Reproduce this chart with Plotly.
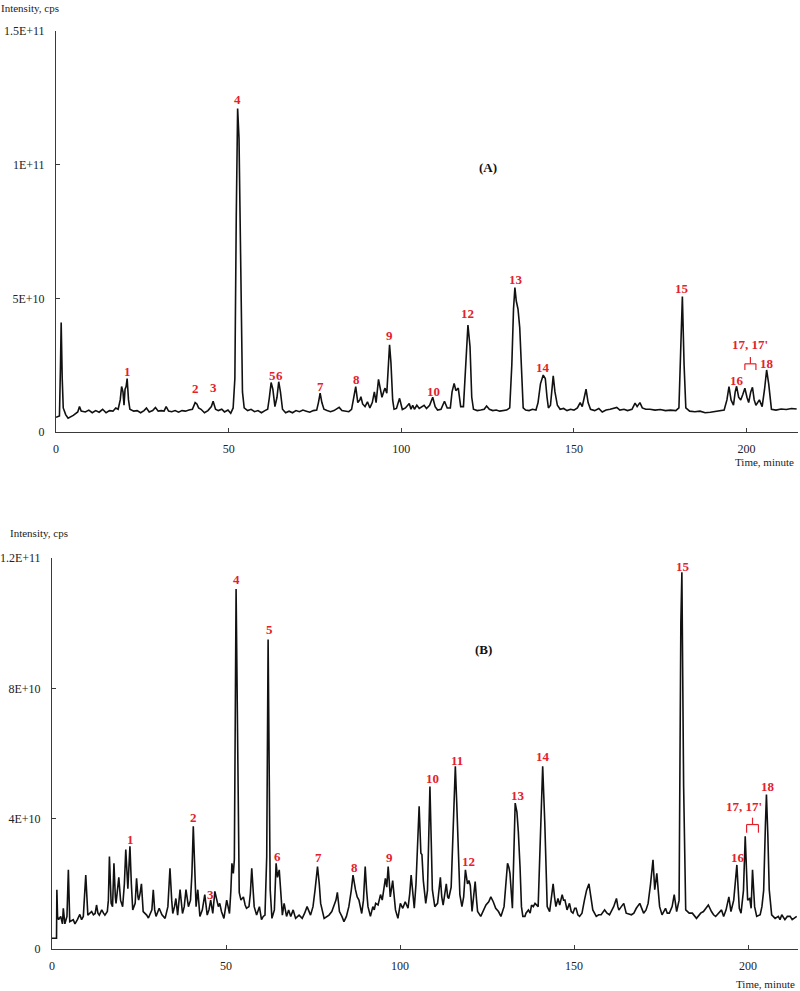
import numpy as np
import plotly.graph_objects as go

# ---- chromatogram (A): time (min) / intensity (x1E+10 cps) ----
a_time = [0, 1.0, 1.3, 1.5, 1.8, 2.1, 2.8, 3.5, 5.0, 6.3, 6.8, 7.3, 8.5, 9.5, 10.5, 11.5, 12.5, 13.5, 14.5, 15.5,
          16.5, 17.3, 18.0, 18.6, 19.0, 19.4, 19.7, 20.0, 20.3, 20.6, 21.0, 21.4, 22.5, 23.5, 24.5, 25.5, 26.2, 27.0,
          28.0, 28.8, 29.6, 30.5, 31.3, 31.9, 32.6, 33.5, 34.5, 35.5, 36.5, 37.5, 38.5, 39.5, 40.3, 40.8, 41.3, 42.0,
          43.0, 44.0, 45.0, 45.5, 46.2, 47.0, 48.0, 48.8, 49.8, 50.6, 51.3, 51.8, 52.2, 52.6, 53.0, 53.5, 54.0, 54.5,
          55.5, 56.5, 57.5, 58.5, 59.5, 60.5, 61.3, 61.8, 62.3, 62.8, 63.4, 64.0, 64.5, 65.0, 65.6, 66.5, 67.5, 68.5,
          69.5, 70.5, 71.5, 72.5, 73.5, 74.5, 75.5, 76.0, 76.5, 77.0, 77.6, 78.5, 79.5, 80.5, 81.3, 82.0, 82.8, 83.8,
          84.8, 85.6, 86.2, 86.8, 87.4, 88.0, 88.3, 88.8, 89.5, 90.2, 90.9, 91.6, 92.2, 92.7, 93.4, 94.0, 94.4, 95.0,
          95.3, 95.8, 96.2, 96.6, 97.0, 97.5, 97.9, 98.6, 99.5, 100.3, 101.2, 102.3, 102.8, 103.3, 103.8, 104.5,
          105.2, 106.0, 106.6, 107.3, 108.2, 109.1, 109.8, 110.5, 111.5, 112.5, 113.3, 114.2, 114.7, 115.3, 115.8,
          116.5, 117.2, 118.0, 118.6, 119.3, 119.9, 120.4, 120.9, 122.0, 123.0, 124.0, 124.7, 125.5, 126.5, 127.5,
          128.5, 129.5, 130.5, 131.4, 132.0, 132.5, 132.9, 133.3, 133.8, 134.3, 134.8, 135.3, 136.0, 137.0, 138.0,
          139.0, 139.6, 140.3, 141.1, 141.7, 142.2, 142.6, 143.2, 143.6, 144.0, 144.5, 145.2, 146.0, 147.0, 148.0,
          149.0, 150.0, 151.0, 151.8, 152.4, 153.0, 153.5, 154.1, 154.8, 156.0, 157.2, 158.2, 159.3, 160.5, 161.5,
          162.4, 163.3, 164.5, 165.5, 166.8, 167.7, 168.3, 169.1, 169.8, 170.8, 172.0, 173.5, 175.0, 176.5, 178.0,
          179.5, 180.4, 180.9, 181.4, 181.9, 182.4, 183.5, 185.0, 186.5, 188.0, 189.5, 191.0, 192.5, 193.5, 194.3,
          194.9, 195.5, 196.2, 196.7, 197.1, 197.7, 198.3, 198.9, 199.5, 200.1, 200.6, 201.2, 201.7, 202.2, 202.7,
          203.7, 204.5, 205.2, 205.8, 206.4, 207.2, 208.5, 210.0, 211.5, 213.0, 214.5]
a_int = [0.55, 0.6, 2.5, 4.1, 2.0, 0.9, 0.65, 0.52, 0.62, 0.75, 0.95, 0.78, 0.75, 0.82, 0.72, 0.8, 0.74, 0.85, 0.72, 0.8,
         0.78, 0.9, 0.85, 1.2, 1.7, 1.5, 1.0, 1.6, 1.7, 2.0, 1.2, 0.85, 0.78, 0.8, 0.72, 0.8, 0.9, 0.75,
         0.8, 0.92, 0.78, 0.8, 0.78, 0.95, 0.78, 0.76, 0.8, 0.74, 0.8, 0.78, 0.82, 0.85, 1.1, 1.05, 0.9, 0.85,
         0.72, 0.8, 0.95, 1.15, 0.85, 0.8, 0.85, 0.75, 0.82, 0.7, 0.9, 2.0, 8.0, 12.1, 11.0, 5.0, 1.5, 0.9,
         0.8, 0.85, 0.76, 0.8, 0.72, 0.8, 0.85, 1.3, 1.85, 1.6, 0.95, 1.3, 1.88, 1.5, 0.85, 0.72, 0.78, 0.72,
         0.8, 0.76, 0.82, 0.78, 0.74, 0.8, 0.82, 1.1, 1.45, 1.1, 0.85, 0.8, 0.76, 0.8, 0.85, 0.92, 0.8, 0.78,
         0.76, 0.85, 1.3, 1.7, 1.1, 1.2, 1.32, 1.05, 0.95, 1.13, 0.9, 1.1, 1.5, 1.1, 1.97, 1.5, 1.3, 1.55,
         1.64, 1.45, 2.6, 3.26, 2.6, 1.2, 0.85, 0.88, 1.26, 0.84, 0.9, 1.07, 0.85, 1.0, 0.85, 1.0,
         0.88, 0.95, 1.0, 0.88, 1.0, 1.3, 0.95, 0.82, 0.85, 1.15, 0.9, 0.9, 1.5, 1.82, 1.55,
         1.64, 0.95, 0.95, 2.5, 4.0, 3.2, 1.3, 0.85, 0.8, 0.82, 0.85, 0.97, 0.85, 0.8, 0.82,
         0.78, 0.8, 0.82, 0.9, 2.5, 4.6, 5.4, 4.9, 4.6, 3.9, 2.2, 0.9, 0.82, 0.8, 0.85,
         0.82, 1.1, 1.8, 2.13, 2.0, 1.3, 0.9, 1.0, 1.7, 2.1, 1.5, 1.0, 0.85, 0.88, 0.8,
         0.85, 0.82, 0.9, 1.1, 0.95, 1.3, 1.6, 1.1, 0.85, 0.8, 0.88, 0.75, 0.82, 0.85, 0.88,
         0.92, 0.82, 0.85, 0.8, 0.85, 1.08, 0.95, 1.1, 0.9, 0.85, 0.85, 0.82, 0.84, 0.8, 0.82,
         0.8, 0.9, 3.0, 5.07, 2.5, 0.9, 0.78, 0.76, 0.78, 0.72, 0.74, 0.76, 0.78, 0.82, 1.2,
         1.7, 1.2, 1.0, 1.5, 1.71, 1.3, 1.2, 1.4, 1.64, 1.3, 1.1, 1.5, 1.67, 1.2, 1.0,
         1.2, 0.95, 1.6, 2.32, 1.8, 0.85, 0.82, 0.86, 0.84, 0.88, 0.86]

# ---- chromatogram (B) ----
b_time = [0, 1.3, 1.4, 1.6, 1.9, 2.5, 3.0, 3.25, 3.7, 4.3, 4.7, 5.1, 6.1, 6.6, 7.3, 8.0, 8.5, 9.0, 9.7, 10.3, 10.9,
          11.4, 11.9, 12.4, 12.8, 13.2, 13.6, 14.3, 14.8, 15.2, 15.9, 16.2, 16.5, 16.8, 17.0, 17.4, 17.8, 18.2, 18.4,
          19.2, 19.7, 20.3, 20.8, 21.2, 21.6, 21.8, 22.1, 22.4, 22.8, 23.2, 23.9, 24.3, 24.7, 24.9, 25.3, 25.7, 26.2,
          27.2, 27.7, 28.2, 28.7, 29.1, 29.5, 29.9, 30.8, 31.6, 32.5, 33.3, 33.9, 34.4, 34.7, 35.2, 35.6, 36.1, 36.8,
          37.5, 38.0, 38.5, 38.9, 39.2, 39.8, 40.2, 40.6, 41.0, 41.4, 41.9, 42.5, 43.2, 43.9, 44.6, 45.1, 45.6, 46.2,
          46.8, 47.3, 47.8, 48.2, 48.7, 49.4, 50.2, 50.6, 51.0, 51.4, 51.7, 52.1, 52.4, 52.9, 53.4, 53.8, 54.3, 55.0,
          55.5, 55.9, 56.6, 57.0, 57.4, 57.8, 58.1, 58.8, 59.2, 59.6, 60.2, 60.7, 61.2, 61.7, 62.1, 62.5, 62.7, 63.2,
          63.9, 64.4, 64.8, 65.3, 65.8, 66.2, 66.7, 67.4, 68.0, 68.6, 69.3, 70.0, 71.0, 71.9, 72.6, 73.3, 74.3, 75.0,
          75.6, 76.3, 76.8, 77.2, 78.2, 79.0, 79.6, 80.4, 81.0, 81.6, 82.0, 82.6, 83.3, 83.9, 84.6, 85.3, 86.0, 86.5,
          87.2, 87.7, 88.2, 89.0, 89.5, 90.0, 90.4, 90.8, 91.5, 92.2, 92.6, 93.0, 93.7, 94.4, 94.9, 95.4, 95.8, 96.2,
          96.6, 96.9, 97.2, 97.9, 98.3, 98.7, 99.4, 100.1, 100.8, 101.5, 102.3, 102.8, 103.2, 103.7, 104.1, 104.6,
          105.0, 105.5, 106.0, 106.3, 106.7, 107.4, 107.9, 108.3, 108.6, 109.0, 109.3, 110.0, 110.8, 111.6, 112.0,
          112.4, 113.3, 113.7, 114.0, 114.7, 115.2, 115.9, 116.3, 116.6, 117.2, 117.8, 118.3, 118.8, 119.4, 119.8,
          120.2, 120.7, 121.2, 121.6, 122.0, 122.3, 123.2, 124.0, 124.7, 125.5, 126.1, 126.8, 127.5, 128.3, 129.0,
          129.9, 130.5, 130.9, 131.3, 131.6, 132.3, 132.7, 133.1, 133.6, 134.0, 134.5, 134.9, 135.3, 135.9, 136.2,
          136.9, 137.4, 137.8, 138.3, 138.8, 139.7, 140.2, 140.6, 141.0, 141.6, 142.0, 142.3, 143.0, 143.5, 144.0,
          144.4, 144.8, 145.4, 145.9, 146.6, 147.0, 147.4, 148.0, 148.7, 149.2, 149.7, 150.2, 150.6, 151.1, 151.6,
          152.3, 153.0, 153.6, 154.3, 154.9, 155.4, 156.4, 157.1, 157.8, 158.8, 159.5, 160.2, 161.4, 162.2, 162.6,
          162.9, 163.6, 164.3, 165.0, 166.5, 167.2, 167.9, 168.9, 169.5, 170.0, 170.7, 171.3, 172.0, 172.7, 173.2,
          173.8, 174.2, 174.6, 175.3, 175.8, 176.3, 176.8, 177.4, 178.2, 178.8, 179.5, 180.2, 180.7, 181.0, 181.5,
          182.1, 183.1, 184.0, 185.2, 186.4, 187.2, 187.9, 188.6, 189.5, 190.1, 190.7, 191.6, 192.4, 193.0, 193.7,
          194.5, 195.1, 195.9, 196.4, 196.8, 197.2, 197.5, 198.0, 198.7, 199.2, 199.6, 199.9, 200.5, 200.9, 201.3,
          201.6, 201.9, 202.5, 203.5, 204.0, 204.5, 205.0, 205.3, 205.7, 206.1, 206.8, 207.8, 208.7, 209.2, 209.7,
          210.6, 211.3, 212.1, 212.7, 213.3, 214.0]
b_int = [0.33, 0.33, 1.82, 1.0, 0.9, 1.0, 0.77, 1.25, 0.77, 1.0, 2.43, 0.84, 0.9, 0.77, 0.9, 1.06, 0.9, 1.0, 2.27, 1.04, 1.1,
         1.15, 1.05, 1.09, 1.35, 1.1, 1.04, 1.2, 1.1, 1.04, 1.15, 1.5, 2.84, 1.6, 1.4, 1.3, 2.63, 1.6, 1.4,
         2.2, 1.5, 1.3, 2.0, 3.05, 2.2, 1.85, 2.5, 3.15, 2.0, 1.2, 1.4, 2.17, 1.6, 1.5, 1.7, 2.0, 1.15,
         1.04, 0.95, 1.09, 1.2, 1.82, 1.2, 1.0, 1.25, 1.05, 0.94, 1.3, 2.48, 1.5, 1.09, 1.3, 1.55, 1.04, 1.82,
         1.09, 1.3, 1.82, 1.4, 1.3, 1.5, 2.3, 3.77, 2.2, 1.3, 1.82, 1.0, 1.2, 1.67, 1.04, 1.2, 1.5, 1.09,
         1.77, 1.5, 1.3, 1.4, 1.15, 0.94, 1.5, 1.3, 1.09, 1.8, 2.63, 2.32, 2.74, 11.05, 5.92, 1.74, 1.5, 1.6,
         1.35, 1.25, 1.3, 1.7, 2.48, 1.6, 1.3, 1.04, 1.2, 1.3, 0.9, 1.0, 1.04, 2.84, 9.5, 4.0, 1.82, 0.94,
         1.2, 2.63, 2.2, 2.43, 1.5, 1.04, 1.4, 1.0, 1.2, 1.0, 1.2, 0.94, 1.04, 0.94, 1.1, 1.3, 1.04, 1.3,
         1.82, 2.53, 2.0, 1.4, 0.94, 1.0, 1.04, 1.15, 1.35, 1.5, 1.74, 1.15, 1.0, 0.84, 1.0, 1.3, 1.8, 2.27,
         1.82, 1.6, 1.5, 1.09, 1.5, 2.53, 1.8, 1.3, 1.0, 1.3, 1.2, 1.4, 1.35, 1.67, 1.5, 1.8, 2.17, 1.9,
         2.53, 2.1, 1.6, 2.1, 1.6, 1.2, 0.94, 1.4, 1.25, 1.45, 1.25, 1.7, 2.27, 1.7, 1.25, 2.0,
         3.2, 4.38, 2.94, 2.9, 2.1, 1.4, 1.8, 3.5, 4.99, 3.2, 1.82, 1.3, 1.4, 2.2, 1.6,
         1.35, 2.0, 1.6, 1.55, 1.9, 3.36, 5.61, 4.5, 3.36, 1.67, 1.3, 1.6, 2.43, 2.0, 2.1,
         1.95, 1.15, 1.6, 2.07, 1.5, 1.15, 1.0, 1.2, 1.35, 1.45, 1.6, 1.45, 1.25, 1.15, 1.0,
         1.3, 2.2, 2.63, 2.5, 2.32, 1.25, 3.0, 4.48, 4.2, 3.6, 2.5, 1.3, 1.0, 1.0, 1.1,
         1.2, 1.1, 1.35, 1.3, 1.4, 1.3, 2.8, 4.5, 5.61, 3.9, 2.0, 1.3, 1.15, 1.5, 2.0,
         1.6, 1.3, 1.55, 1.35, 1.67, 1.5, 1.5, 1.2, 1.4, 1.15, 1.1, 1.25, 1.25, 1.05, 1.0,
         1.1, 1.5, 1.8, 2.0, 1.5, 1.2, 1.0, 1.05, 1.05, 1.2, 1.1, 1.05, 1.3, 1.55, 1.3,
         1.2, 1.3, 1.4, 1.1, 1.05, 1.1, 1.25, 1.4, 1.25, 1.1, 1.2, 1.4, 2.0, 2.74, 1.82,
         2.32, 1.8, 1.3, 1.05, 1.15, 1.25, 1.1, 1.1, 1.3, 1.67, 1.15, 1.5, 10.0, 11.56, 5.0,
         1.2, 1.1, 1.1, 0.94, 1.1, 1.15, 1.25, 1.35, 1.15, 1.05, 1.0, 1.1, 1.2, 1.0, 1.2,
         1.6, 1.15, 1.5, 2.0, 2.58, 1.8, 1.25, 1.1, 1.8, 3.46, 2.3, 1.5, 1.55, 1.25, 2.43,
         1.8, 1.3, 1.0, 1.05, 1.3, 1.8, 3.8, 4.74, 3.5, 1.82, 1.05, 0.94, 1.0, 0.9, 1.05,
         0.9, 1.0, 1.0, 0.9, 0.94, 1.0]

# peak labels: text, time, label height (x1E+10)
a_labels = ["1", "2", "3", "4", "5", "6", "7", "8", "9", "10", "12", "13", "14", "15", "16", "17, 17'", "18"]
a_label_t = [20.6, 40.5, 45.5, 52.7, 62.6, 64.6, 76.5, 86.9, 96.7, 109.2, 119.3, 133.2, 141.0, 181.3, 197.2, 201.0, 205.9]
a_label_i = [2.25, 1.61, 1.65, 12.43, 2.13, 2.13, 1.72, 1.95, 3.6, 1.5, 4.42, 5.69, 2.43, 5.36, 1.91, 3.26, 2.58]

b_labels = ["1", "2", "3", "4", "5", "6", "7", "8", "9", "10", "11", "12", "13", "14", "15", "16", "17, 17'", "18"]
b_label_t = [22.6, 40.8, 45.6, 52.9, 62.4, 64.7, 76.7, 86.8, 97.1, 109.2, 116.5, 119.8, 134.0, 141.0, 181.2, 197.2, 198.9, 205.8]
b_label_i = [3.35, 4.03, 1.66, 11.35, 9.82, 2.83, 2.8, 2.49, 2.8, 5.23, 5.78, 2.68, 4.71, 5.91, 11.75, 2.8, 4.37, 4.98]

# bracket under "17, 17'": left, right, centre time, bar level, foot level, top level (x1E+10)
a_bracket = [199.5, 202.7, 201.1, 2.55, 2.32, 2.81]
b_bracket = [199.6, 203.0, 201.3, 3.82, 3.57, 4.03]

a_ticks = [0, 5, 10, 15]
a_ticktext = ["0", "5E+10", "1E+11", "1.5E+11"]
b_ticks = [0, 4, 8, 12]
b_ticktext = ["0", "4E+10", "8E+10", "1.2E+11"]
x_ticks = [0, 50, 100, 150, 200]

E10 = 1e10
RED = "#e5202a"
AX = "#3a3a3a"
SERIF = "Liberation Serif, Times New Roman, serif"
W, H = 800, 991


def px_x(p):
    return p / W


def px_y(p):
    return 1 - p / H


fig = go.Figure()
fig.add_trace(go.Scatter(x=a_time, y=np.array(a_int) * E10, mode="lines",
                         line=dict(color="#111111", width=1.6), xaxis="x", yaxis="y"))
fig.add_trace(go.Scatter(x=b_time, y=np.array(b_int) * E10, mode="lines",
                         line=dict(color="#111111", width=1.6), xaxis="x2", yaxis="y2"))

annotations = []
shapes = []
panels = [
    ("x", "y", a_labels, a_label_t, a_label_i, a_bracket, "(A)", 125, 9.9),
    ("x2", "y2", b_labels, b_label_t, b_label_i, b_bracket, "(B)", 124, 9.2),
]
for xr, yr, labels, lt, li, br, tag, tag_t, tag_i in panels:
    for txt, t, v in zip(labels, lt, li):
        annotations.append(dict(x=t, y=v * E10, xref=xr, yref=yr, text="<b>%s</b>" % txt,
                                showarrow=False, font=dict(family=SERIF, size=13, color=RED)))
    annotations.append(dict(x=tag_t, y=tag_i * E10, xref=xr, yref=yr, text="<b>%s</b>" % tag,
                            showarrow=False, font=dict(family=SERIF, size=13, color="#111")))
    left, right, mid, bar, foot, top = br
    line = dict(color=RED, width=1.2)
    shapes += [
        dict(type="line", xref=xr, yref=yr, x0=left, x1=right, y0=bar * E10, y1=bar * E10, line=line),
        dict(type="line", xref=xr, yref=yr, x0=left, x1=left, y0=bar * E10, y1=foot * E10, line=line),
        dict(type="line", xref=xr, yref=yr, x0=right, x1=right, y0=bar * E10, y1=foot * E10, line=line),
        dict(type="line", xref=xr, yref=yr, x0=mid, x1=mid, y0=bar * E10, y1=top * E10, line=line),
    ]

# axis captions
for txt, x, y, anchor in [("Intensity, cps", 30, 8, "center"), ("Time, minute", 796, 462, "right"),
                          ("Intensity, cps", 39, 533, "center"), ("Time, minute", 797, 984, "right")]:
    annotations.append(dict(x=px_x(x), y=px_y(y), xref="paper", yref="paper", text=txt, showarrow=False,
                            xanchor=anchor, yanchor="middle", font=dict(family=SERIF, size=11, color="#222")))

axis_common = dict(showline=True, linecolor=AX, linewidth=1, ticks="inside", ticklen=4, tickcolor=AX,
                   showgrid=False, zeroline=False, automargin=False,
                   tickfont=dict(family=SERIF, size=12, color="#222"))

fig.update_layout(
    width=W, height=H,
    margin=dict(l=0, r=0, t=0, b=0),
    paper_bgcolor="white", plot_bgcolor="white",
    showlegend=False,
    xaxis=dict(domain=[px_x(56), px_x(798)], range=[0, 742 / 3.453], anchor="y",
               tickvals=x_ticks, ticklabelstandoff=6, **axis_common),
    yaxis=dict(domain=[px_y(432), px_y(31)], range=[0, 15 * E10], anchor="x",
               tickvals=[v * E10 for v in a_ticks], ticktext=a_ticktext, ticklabelstandoff=8, **axis_common),
    xaxis2=dict(domain=[px_x(52), px_x(798)], range=[0, 746 / 3.48], anchor="y2",
                tickvals=x_ticks, ticklabelstandoff=6, **axis_common),
    yaxis2=dict(domain=[px_y(949), px_y(558)], range=[0, 12 * E10], anchor="x2",
                tickvals=[v * E10 for v in b_ticks], ticktext=b_ticktext, ticklabelstandoff=8, **axis_common),
    annotations=annotations,
    shapes=shapes,
)

# drop the page's default body margin so the figure sits at the window's top-left corner
fig.write_html("out.html", config={"displayModeBar": False},
               post_script="document.body.style.margin = '0';")
